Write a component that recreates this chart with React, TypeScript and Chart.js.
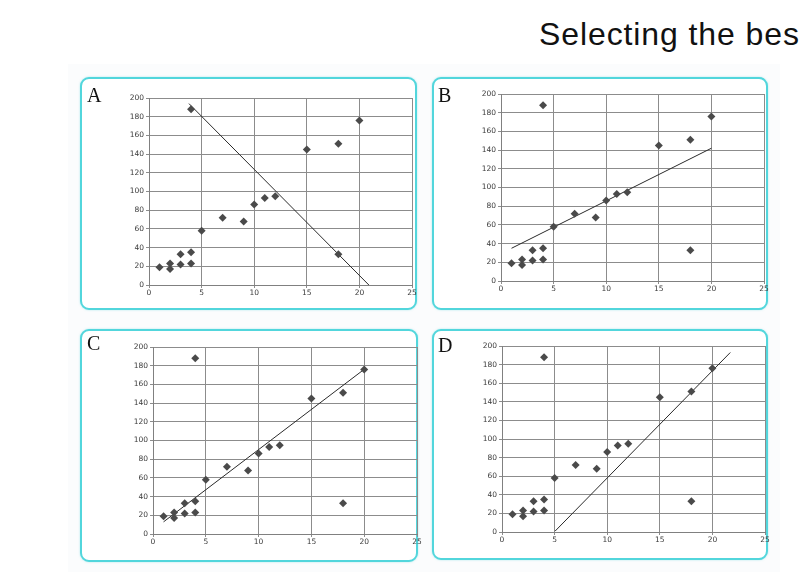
import React, { useEffect, useRef } from "react";
import { Chart, registerables } from "chart.js";

Chart.register(...registerables);

// Shared data: x and y values of the scatter points
const xValues = [1, 2, 2, 3, 3, 4, 4, 4, 5, 7, 9, 10, 11, 12, 15, 18, 18, 20];
const yValues = [19, 23, 17, 33, 22, 35, 23, 188, 58, 72, 68, 86, 93, 95, 145, 151, 33, 176];

// Candidate lines (two end points each)
const lineAX = [3.8, 20.9];
const lineAY = [194, 0];
const lineBX = [1, 20];
const lineBY = [35, 142];
const lineCX = [1, 20.1];
const lineCY = [13, 177];
const lineDX = [5.05, 21.7];
const lineDY = [1, 193];

const panelLabels = ["A", "B", "C", "D"];
const xTicksMax = 25;
const yTicksMax = 200;

const title = "Selecting the bes";

type PanelDef = {
  label: string;
  lx: number[];
  ly: number[];
  box: { left: number; top: number; right: number; bottom: number };
  plot: { x0: number; x1: number; top: number; bottom: number };
  letter: { x: number; y: number };
};

const panels: PanelDef[] = [
  {
    label: panelLabels[0], lx: lineAX, ly: lineAY,
    box: { left: 80, top: 77, right: 417, bottom: 310 },
    plot: { x0: 149, x1: 412, top: 98, bottom: 285 },
    letter: { x: 87, y: 83 },
  },
  {
    label: panelLabels[1], lx: lineBX, ly: lineBY,
    box: { left: 432, top: 77, right: 768, bottom: 310 },
    plot: { x0: 501, x1: 764, top: 94, bottom: 281 },
    letter: { x: 438, y: 83 },
  },
  {
    label: panelLabels[2], lx: lineCX, ly: lineCY,
    box: { left: 80, top: 329, right: 418, bottom: 562 },
    plot: { x0: 153, x1: 417, top: 347, bottom: 534 },
    letter: { x: 87, y: 331 },
  },
  {
    label: panelLabels[3], lx: lineDX, ly: lineDY,
    box: { left: 432, top: 329, right: 768, bottom: 560 },
    plot: { x0: 502, x1: 765, top: 346, bottom: 532 },
    letter: { x: 438, y: 333 },
  },
];

const PAD_L = 60;
const PAD_T = 20;
const PAD_R = 16;
const PAD_B = 22;

function PanelChart({ p }: { p: PanelDef }) {
  const ref = useRef<HTMLCanvasElement | null>(null);
  const w = p.plot.x1 - p.plot.x0 + PAD_L + PAD_R;
  const h = p.plot.bottom - p.plot.top + PAD_T + PAD_B;
  useEffect(() => {
    if (!ref.current) return;
    const pts = xValues.map((x, i) => ({ x, y: yValues[i] }));
    const line = p.lx.map((x, i) => ({ x, y: p.ly[i] }));
    const tickFont = { family: "DejaVu Sans", size: 7.5 };
    const chart = new Chart(ref.current, {
      type: "scatter",
      data: {
        datasets: [
          {
            data: pts,
            pointStyle: "rectRot",
            pointRadius: 4,
            backgroundColor: "#4a4a4a",
            borderColor: "#4a4a4a",
            borderWidth: 0,
          },
          {
            data: line,
            showLine: true,
            pointRadius: 0,
            borderColor: "#2a2a2a",
            borderWidth: 1,
            backgroundColor: "#2a2a2a",
          } as any,
        ],
      },
      options: {
        animation: false,
        responsive: false,
        devicePixelRatio: 1,
        layout: { padding: { left: 0, top: PAD_T, right: PAD_R, bottom: 0 } },
        plugins: { legend: { display: false }, tooltip: { enabled: false }, title: { display: false } },
        scales: {
          x: {
            type: "linear",
            min: 0,
            max: xTicksMax,
            ticks: { stepSize: 5, color: "#3a3a3a", font: tickFont, padding: 1, maxRotation: 0 },
            grid: { color: "#8c8c8c", lineWidth: 1, tickLength: 3, drawTicks: true },
            border: { color: "#808080", width: 1 },
            afterFit: (s: any) => { s.height = PAD_B; },
          },
          y: {
            type: "linear",
            min: 0,
            max: yTicksMax,
            ticks: { stepSize: 20, color: "#3a3a3a", font: tickFont, padding: 2 },
            grid: { color: "#8c8c8c", lineWidth: 1, tickLength: 3, drawTicks: true },
            border: { color: "#808080", width: 1 },
            afterFit: (s: any) => { s.width = PAD_L; },
          },
        },
      },
    });
    return () => chart.destroy();
  }, []);
  return (
    <canvas
      ref={ref}
      width={w}
      height={h}
      style={{
        position: "absolute",
        left: p.plot.x0 - PAD_L,
        top: p.plot.top - PAD_T,
        width: w,
        height: h,
      }}
    />
  );
}

export default function App() {
  return (
    <div
      style={{
        position: "fixed",
        left: 0,
        top: 0,
        width: 800,
        height: 585,
        overflow: "hidden",
        background: "#ffffff",
      }}
    >
      <div
        style={{
          position: "absolute",
          left: 539,
          top: 18,
          fontFamily: "'Liberation Sans', Arial, sans-serif",
          fontSize: 32,
          lineHeight: "32px",
          letterSpacing: 0.9,
          whiteSpace: "nowrap",
          color: "#111",
        }}
      >
        {title}
      </div>
      <div
        style={{
          position: "absolute",
          left: 68,
          top: 64,
          width: 712,
          height: 508,
          background: "#fbfcfd",
        }}
      />
      {panels.map((p) => (
        <div
          key={"b" + p.label}
          style={{
            position: "absolute",
            left: p.box.left,
            top: p.box.top,
            width: p.box.right - p.box.left - 4,
            height: p.box.bottom - p.box.top - 4,
            border: "2px solid #52d6dc",
            borderRadius: 9,
            background: "#ffffff",
            boxShadow: "0 0 2px rgba(82,214,220,0.5)",
          }}
        />
      ))}
      {panels.map((p) => (
        <PanelChart key={"c" + p.label} p={p} />
      ))}
      {panels.map((p) => (
        <div
          key={"l" + p.label}
          style={{
            position: "absolute",
            left: p.letter.x,
            top: p.letter.y,
            fontFamily: "'Liberation Serif', 'Times New Roman', serif",
            fontSize: 20,
            lineHeight: "24px",
            color: "#111",
          }}
        >
          {p.label}
        </div>
      ))}
    </div>
  );
}
